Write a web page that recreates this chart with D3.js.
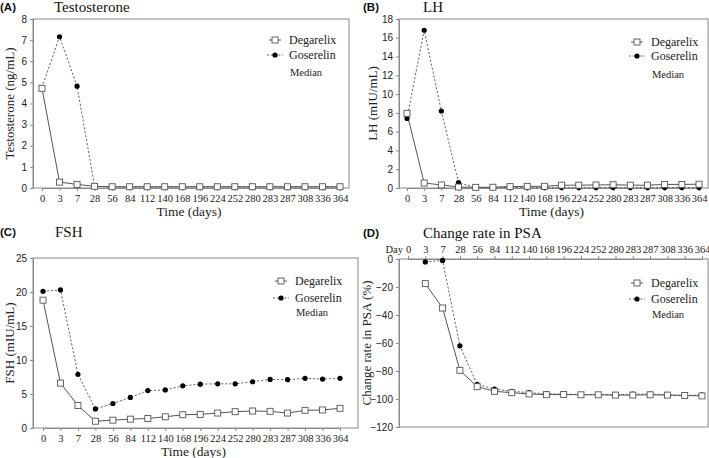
<!DOCTYPE html>
<html><head><meta charset="utf-8">
<script src="https://cdn.jsdelivr.net/npm/d3@7"></script>
<style>body{margin:0;background:#fff}svg{display:block}</style>
</head><body>
<script>
const days = ["0","3","7","28","56","84","112","140","168","196","224","252","280","283","287","308","336","364"];
const testoDeg = [4.72,0.28,0.17,0.08,0.06,0.06,0.06,0.06,0.06,0.06,0.06,0.06,0.06,0.06,0.06,0.06,0.06,0.06];
const testoGos = [4.75,7.16,4.82,0.08,0.05,0.05,0.05,0.05,0.05,0.05,0.05,0.05,0.05,0.05,0.05,0.05,0.05,0.05];
const lhDeg = [7.95,0.53,0.33,0.1,0.07,0.08,0.15,0.18,0.18,0.3,0.3,0.32,0.35,0.3,0.3,0.38,0.38,0.4];
const lhGos = [7.4,16.8,8.2,0.58,0.05,0.05,0.05,0.04,0.04,0.04,0.04,0.04,0.04,0.04,0.04,0.04,0.04,0.04];
const fshDeg = [18.8,6.6,3.3,1.0,1.15,1.3,1.4,1.65,1.95,2.0,2.2,2.4,2.5,2.45,2.2,2.6,2.65,2.9];
const fshGos = [20.1,20.3,7.9,2.8,3.6,4.5,5.5,5.6,6.2,6.45,6.5,6.5,6.8,7.15,7.1,7.3,7.2,7.3];
const psaDeg = [null,-17.6,-35,-79.5,-91.2,-94.5,-95.5,-96.4,-96.9,-96.8,-97,-97,-97.2,-97.2,-97,-97.2,-97.5,-97.8];
const psaGos = [null,-2.1,-1,-62,-89.5,-92.9,-94.5,-95.5,-96.2,-96.5,-96.8,-96.8,-97,-96.5,-96.5,-97,-97.5,-97];
const seriesNames = ["Degarelix","Goserelin"];
const legendNote = "Median";

const panels = [
  {tag:"(A)", title:"Testosterone", ylab:"Testosterone (ng/mL)", deg:testoDeg, gos:testoGos, ydom:[0,8], yticks:d3.range(0,9,1),
   L:33,R:349,T:19,B:188, x0:42,x1:340, top:false, tagX:0,tagY:7,titleX:54, ylabX:9, legX:275, legY:[40,55,72]},
  {tag:"(B)", title:"LH", ylab:"LH (mIU/mL)", deg:lhDeg, gos:lhGos, ydom:[0,18], yticks:d3.range(0,19,2),
   L:399,R:708,T:19,B:188, x0:407,x1:699, top:false, tagX:363,tagY:7,titleX:423, ylabX:372, legX:637, legY:[42,56,74]},
  {tag:"(C)", title:"FSH", ylab:"FSH (mIU/mL)", deg:fshDeg, gos:fshGos, ydom:[0,25], yticks:d3.range(0,26,5),
   L:33,R:358,T:258,B:428, x0:43,x1:340, top:false, tagX:0,tagY:232,titleX:55, ylabX:9, legX:281, legY:[281,298,312]},
  {tag:"(D)", title:"Change rate in PSA", ylab:"Change rate in PSA (%)", deg:psaDeg, gos:psaGos, ydom:[-120,0], yticks:d3.range(-120,1,20),
   L:399,R:708,T:259,B:427, x0:408,x1:702, top:true, tagX:363,tagY:233,titleX:423, ylabX:366, legX:637, legY:[283,299,314]}
];

const svg = d3.select("body").append("svg").attr("width",709).attr("height",458);
const serif = "'Liberation Serif','Times New Roman',serif";
const sans = "'Liberation Sans',Arial,sans-serif";
const axisCol = "#8a8a8a";
const txtCol = "#222";

panels.forEach(p => {
  const g = svg.append("g");
  const x = d3.scalePoint().domain(days).range([p.x0,p.x1]);
  const y = d3.scaleLinear().domain(p.ydom).range([p.B,p.T]);

  g.append("rect").attr("x",p.L).attr("y",p.T).attr("width",p.R-p.L).attr("height",p.B-p.T)
    .attr("fill","none").attr("stroke",axisCol).attr("stroke-width",1);

  const ya = g.append("g").attr("transform",`translate(${p.L},0)`)
    .call(d3.axisLeft(y).tickValues(p.yticks).tickSize(3).tickPadding(3).tickFormat(d3.format("d")));
  ya.select(".domain").attr("stroke",axisCol);
  ya.selectAll(".tick line").attr("stroke",axisCol);
  ya.selectAll("text").attr("font-family",sans).attr("font-size",10).attr("fill",txtCol);

  if (!p.top) {
    const xa = g.append("g").attr("transform",`translate(0,${p.B})`)
      .call(d3.axisBottom(x).tickSize(3).tickPadding(4));
    xa.select(".domain").attr("stroke",axisCol);
    xa.selectAll(".tick line").attr("stroke",axisCol);
    xa.selectAll("text").attr("font-family",serif).attr("font-size",10.5).attr("fill",txtCol);
    g.append("text").attr("x",(p.L+p.R)/2 - 2).attr("y",p.B+28).attr("text-anchor","middle")
      .attr("font-family",serif).attr("font-size",13.5).attr("fill",txtCol).text("Time (days)");
  } else {
    const xa = g.append("g").attr("transform",`translate(0,${p.T})`)
      .call(d3.axisTop(x).tickSize(3).tickPadding(3));
    xa.select(".domain").attr("stroke",axisCol);
    xa.selectAll(".tick line").attr("stroke",axisCol);
    xa.selectAll("text").attr("font-family",serif).attr("font-size",10.5).attr("fill",txtCol);
    g.append("text").attr("x",x("0")-5).attr("y",p.T-6).attr("text-anchor","end")
      .attr("font-family",serif).attr("font-size",10.5).attr("fill",txtCol).text("Day");
  }

  g.append("text").attr("transform",`translate(${p.ylabX},${(p.T+p.B)/2}) rotate(-90)`)
    .attr("text-anchor","middle").attr("dominant-baseline","central")
    .attr("font-family",serif).attr("font-size",13).attr("fill",txtCol).text(p.ylab);

  g.append("text").attr("x",p.tagX).attr("y",p.tagY).attr("dominant-baseline","central")
    .attr("font-family",sans).attr("font-weight","bold").attr("font-size",11.5).attr("fill","#111").text(p.tag);
  g.append("text").attr("x",p.titleX).attr("y",p.tagY).attr("dominant-baseline","central")
    .attr("font-family",serif).attr("font-size",15).attr("fill","#111").text(p.title);

  const line = d3.line().defined(d => d[1] != null).x(d => x(d[0])).y(d => y(d[1]));
  const gosPts = days.map((d,i)=>[d,p.gos[i]]);
  const degPts = days.map((d,i)=>[d,p.deg[i]]);

  g.append("path").attr("d",line(gosPts)).attr("fill","none").attr("stroke","#555")
    .attr("stroke-width",0.9).attr("stroke-dasharray","2.2,1.8");
  g.append("path").attr("d",line(degPts)).attr("fill","none").attr("stroke","#555").attr("stroke-width",1);

  g.selectAll(".gos").data(gosPts.filter(d=>d[1]!=null)).enter().append("circle")
    .attr("cx",d=>x(d[0])).attr("cy",d=>y(d[1])).attr("r",2.6).attr("fill","#000");
  g.selectAll(".deg").data(degPts.filter(d=>d[1]!=null)).enter().append("rect")
    .attr("x",d=>x(d[0])-3).attr("y",d=>y(d[1])-3).attr("width",6).attr("height",6)
    .attr("fill","#fff").attr("stroke","#555").attr("stroke-width",0.9);

  const lx = p.legX;
  const l1 = p.legY[0], l2 = p.legY[1];
  g.append("line").attr("x1",lx-6).attr("x2",lx+6).attr("y1",l1).attr("y2",l1).attr("stroke","#555");
  g.append("rect").attr("x",lx-3).attr("y",l1-3).attr("width",6).attr("height",6)
    .attr("fill","#fff").attr("stroke","#555").attr("stroke-width",0.9);
  g.append("line").attr("x1",lx-8).attr("x2",lx+8).attr("y1",l2).attr("y2",l2).attr("stroke","#555")
    .attr("stroke-width",0.9).attr("stroke-dasharray","2,1.8");
  g.append("circle").attr("cx",lx).attr("cy",l2).attr("r",2.6).attr("fill","#000");
  g.append("text").attr("x",lx+14).attr("y",l1).attr("dominant-baseline","central")
    .attr("font-family",serif).attr("font-size",12).attr("fill",txtCol).text(seriesNames[0]);
  g.append("text").attr("x",lx+14).attr("y",l2).attr("dominant-baseline","central")
    .attr("font-family",serif).attr("font-size",12).attr("fill",txtCol).text(seriesNames[1]);
  g.append("text").attr("x",lx+15).attr("y",p.legY[2]).attr("dominant-baseline","central")
    .attr("font-family",serif).attr("font-size",10.5).attr("fill",txtCol).text(legendNote);
});
</script>
</body></html>
